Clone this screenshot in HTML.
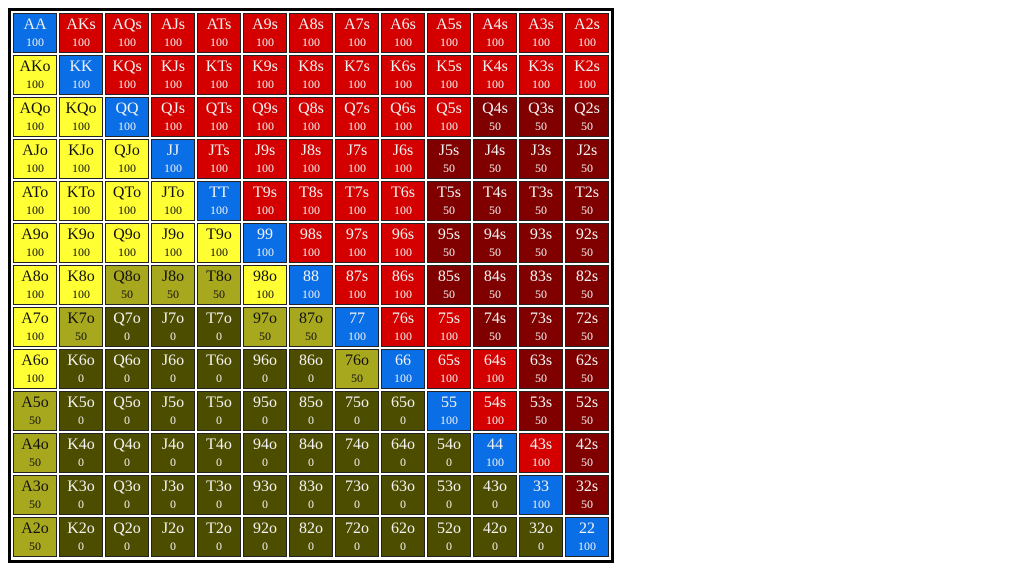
<!DOCTYPE html>
<html><head><meta charset="utf-8">
<style>
body{margin:0;width:1024px;height:570px;background:#fff;overflow:hidden;position:relative;font-family:"Liberation Serif",serif;}
#grid{position:absolute;left:8px;top:8px;width:600px;height:549px;border:3px solid #000;background:#fff;}
.cell{position:absolute;width:42px;height:38px;border:1px solid #222;text-align:center;color:#f2f2f2;}
.cell .n{position:absolute;left:0;right:0;top:2px;font-size:16px;line-height:18px;}
.cell .v{position:absolute;left:0;right:0;top:21px;font-size:12px;line-height:14px;}
.dark{color:#111;}
</style></head><body>
<div id="grid"></div>
<script>
const ranks=["A","K","Q","J","T","9","8","7","6","5","4","3","2"];
const vals=[
[100,100,100,100,100,100,100,100,100,100,100,100,100],
[100,100,100,100,100,100,100,100,100,100,100,100,100],
[100,100,100,100,100,100,100,100,100,100,50,50,50],
[100,100,100,100,100,100,100,100,100,50,50,50,50],
[100,100,100,100,100,100,100,100,100,50,50,50,50],
[100,100,100,100,100,100,100,100,100,50,50,50,50],
[100,100,50,50,50,100,100,100,100,50,50,50,50],
[100,50,0,0,0,50,50,100,100,100,50,50,50],
[100,0,0,0,0,0,0,50,100,100,100,50,50],
[50,0,0,0,0,0,0,0,0,100,100,50,50],
[50,0,0,0,0,0,0,0,0,0,100,100,50],
[50,0,0,0,0,0,0,0,0,0,0,100,50],
[50,0,0,0,0,0,0,0,0,0,0,0,100]];
const g=document.getElementById('grid');
for(let i=0;i<13;i++)for(let j=0;j<13;j++){
  const v=vals[i][j];
  let name,bg,dark=false;
  if(i===j){name=ranks[i]+ranks[j];bg='#0a6fe6';}
  else if(i<j){name=ranks[i]+ranks[j]+'s';bg=v>=100?'#d40000':'#800000';}
  else{name=ranks[j]+ranks[i]+'o';
    if(v>=100){bg='#ffff33';dark=true;}
    else if(v>=50){bg='#a8a81e';dark=true;}
    else bg='#4d4d00';}
  const c=document.createElement('div');
  
  
  c.className='cell'+(dark?' dark':'');
  c.style.left=(2+j*46)+'px';
  c.style.top=(2+i*42)+'px';
  c.style.background=bg;
  c.innerHTML='<div class="n">'+name+'</div><div class="v">'+v+'</div>';
  g.appendChild(c);
}
</script>
</body></html>
